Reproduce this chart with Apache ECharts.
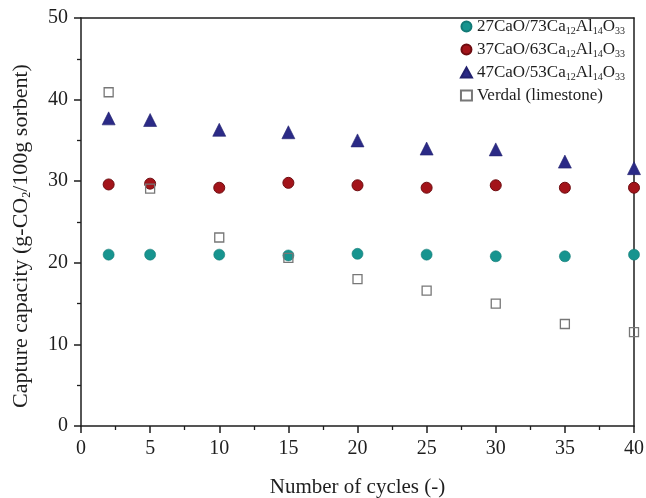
<!DOCTYPE html>
<html><head><meta charset="utf-8">
<script src="https://cdn.jsdelivr.net/npm/echarts@6/dist/echarts.min.js"></script>
<style>html,body{margin:0;padding:0;background:#fff}#c{width:646px;height:498px}</style>
</head><body><div id="c"></div>
<script>
const cycles = [2, 5, 10, 15, 20, 25, 30, 35, 40];
const s27 = [21.0, 21.0, 21.0, 20.9, 21.1, 21.0, 20.8, 20.8, 21.0];
const s37 = [29.6, 29.7, 29.2, 29.8, 29.5, 29.2, 29.5, 29.2, 29.2];
const s47 = [37.7, 37.5, 36.3, 36.0, 35.0, 34.0, 33.9, 32.4, 31.6];
const verdal = [40.9, 29.1, 23.1, 20.6, 18.0, 16.6, 15.0, 12.5, 11.5];
const names = ['27CaO/73Ca12Al14O33', '37CaO/63Ca12Al14O33', '47CaO/53Ca12Al14O33', 'Verdal (limestone)'];
const legendLabels = {
  '27CaO/73Ca12Al14O33': '27CaO/73Ca{s|12}Al{s|14}O{s|33}',
  '37CaO/63Ca12Al14O33': '37CaO/63Ca{s|12}Al{s|14}O{s|33}',
  '47CaO/53Ca12Al14O33': '47CaO/53Ca{s|12}Al{s|14}O{s|33}',
  'Verdal (limestone)': 'Verdal (limestone)'
};
const FONT = 'Liberation Serif';
const INK = '#1e1e1e';
const pair = arr => cycles.map((c, i) => [c, arr[i]]);
const chart = echarts.init(document.getElementById('c'));
const axisCommon = {
  axisLine: {show: true, onZero: false, lineStyle: {color: INK, width: 1.5}},
  splitLine: {show: false}
};
chart.setOption({
  animation: false,
  backgroundColor: '#fff',
  textStyle: {fontFamily: FONT},
  grid: {left: 81, right: 12, top: 18, bottom: 72, containLabel: false, outerBoundsMode: 'none'},
  legend: {
    orient: 'vertical', right: 16, top: 13, itemGap: 5, itemWidth: 11, itemHeight: 10,
    data: names,
    formatter: n => legendLabels[n],
    textStyle: {fontFamily: FONT, fontSize: 17, color: INK, lineHeight: 17,
      rich: {s: {fontFamily: FONT, fontSize: 10, color: INK, padding: [9, 0, 0, 0]}}}
  },
  xAxis: [{
    type: 'value', min: 0, max: 40, interval: 5, position: 'bottom',
    ...axisCommon,
    axisTick: {show: true, length: 7, lineStyle: {color: INK, width: 1.5}},
    minorTick: {show: true, splitNumber: 2, length: 4, lineStyle: {color: INK, width: 1.3}},
    axisLabel: {fontFamily: FONT, fontSize: 20, color: INK, margin: 13},
    name: 'Number of cycles (-)', nameLocation: 'middle', nameGap: 51,
    nameTextStyle: {fontFamily: FONT, fontSize: 21, color: INK}
  }, {
    type: 'value', min: 0, max: 40, position: 'top',
    ...axisCommon, axisTick: {show: false}, axisLabel: {show: false}
  }],
  yAxis: [{
    type: 'value', min: 0, max: 50, interval: 10, position: 'left',
    ...axisCommon,
    axisTick: {show: true, length: 7, lineStyle: {color: INK, width: 1.5}},
    minorTick: {show: true, splitNumber: 2, length: 4, lineStyle: {color: INK, width: 1.3}},
    axisLabel: {fontFamily: FONT, fontSize: 20, color: INK, margin: 13},
    name: 'Capture capacity (g-CO{s|2}/100g sorbent)', nameLocation: 'middle', nameGap: 48,
    nameTextStyle: {fontFamily: FONT, fontSize: 22, color: INK, lineHeight: 24, padding: [0, 28, 0, 0],
      rich: {s: {fontFamily: FONT, fontSize: 12, color: INK, padding: [11, 0, 0, 0]}}}
  }, {
    type: 'value', min: 0, max: 50, position: 'right',
    ...axisCommon, axisTick: {show: false}, axisLabel: {show: false}
  }],
  series: [
    {name: names[0], type: 'scatter', data: pair(s27), symbol: 'circle', symbolSize: 11,
      itemStyle: {color: '#17948f', borderColor: '#127a76', borderWidth: 0.6, opacity: 1}},
    {name: names[1], type: 'scatter', data: pair(s37), symbol: 'circle', symbolSize: 11,
      itemStyle: {color: '#a3141a', borderColor: '#6e0c10', borderWidth: 1, opacity: 1}},
    {name: names[2], type: 'scatter', data: pair(s47), symbol: 'triangle', symbolSize: 13,
      itemStyle: {color: '#2b2a86', borderColor: '#22216e', borderWidth: 0.6, opacity: 1}},
    {name: names[3], type: 'scatter', data: pair(verdal), symbol: 'rect', symbolSize: 9,
      itemStyle: {color: 'rgba(255,255,255,0)', borderColor: '#777', borderWidth: 1.3, opacity: 1}}
  ]
});
</script></body></html>
